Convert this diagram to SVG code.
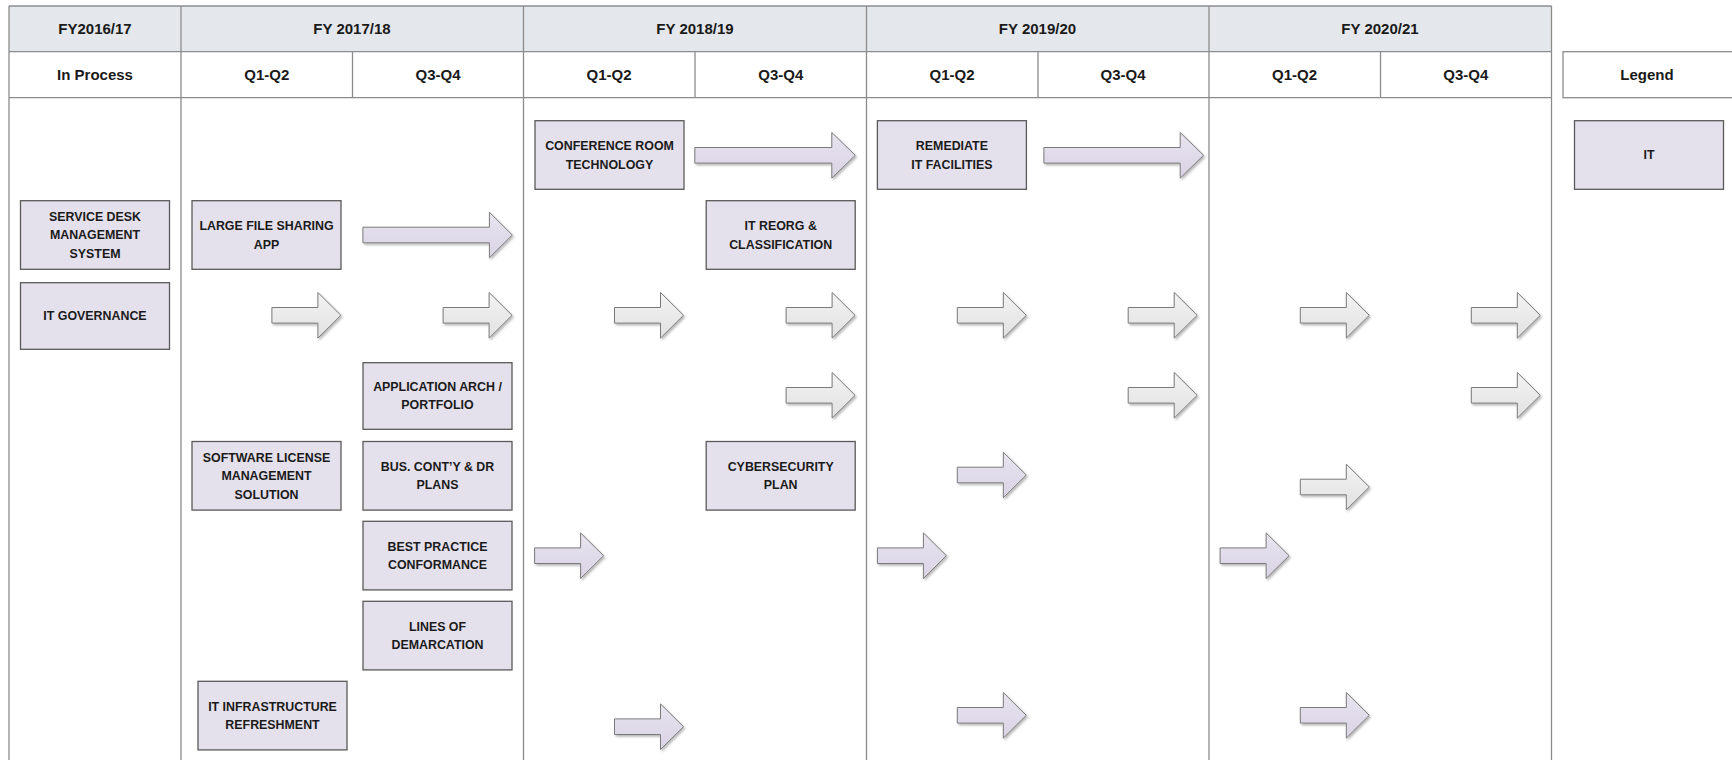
<svg xmlns="http://www.w3.org/2000/svg" width="1732" height="760" viewBox="0 0 1732 760">
<defs>
<linearGradient id="gGray" x1="0" y1="0" x2="0" y2="1">
<stop offset="0" stop-color="#f3f3f3"/>
<stop offset="1" stop-color="#e1e1e1"/>
</linearGradient>
<linearGradient id="gLav" x1="0" y1="0" x2="0" y2="1">
<stop offset="0" stop-color="#e8e4ef"/>
<stop offset="1" stop-color="#d9d3e5"/>
</linearGradient>
<filter id="sh" x="-10%" y="-20%" width="130%" height="150%">
<feDropShadow dx="1.5" dy="1.8" stdDeviation="1" flood-color="#000" flood-opacity="0.28"/>
</filter>
<style>
.grid{stroke:#8c8c8c;stroke-width:1.3;fill:none}
.hdr{fill:#e4e7eb}
.box{fill:#e5e1ec;stroke:#5a5a5a;stroke-width:1.3}
.lgd{fill:#ffffff;stroke:#8c8c8c;stroke-width:1.3}
.t{font-family:"Liberation Sans",Arial,sans-serif;font-weight:bold;font-size:12.4px;fill:#1a1a1a;text-anchor:middle}
.h{font-family:"Liberation Sans",Arial,sans-serif;font-weight:bold;font-size:15px;fill:#1a1a1a;text-anchor:middle}
.ag{fill:url(#gGray);stroke:#7a7a7a;stroke-width:1;filter:url(#sh)}
.al{fill:url(#gLav);stroke:#7a7a7a;stroke-width:1;filter:url(#sh)}
</style>
</defs>
<rect width="1732" height="760" fill="#ffffff"/>

<g id="table">
<rect class="hdr" x="9" y="6" width="1542.5" height="45.7"/>
<line class="grid" x1="9" y1="6" x2="1551.5" y2="6"/>
<line class="grid" x1="9" y1="51.7" x2="1551.5" y2="51.7"/>
<line class="grid" x1="9" y1="97.7" x2="1551.5" y2="97.7"/>
<line class="grid" x1="9" y1="6" x2="9" y2="770"/>
<line class="grid" x1="181" y1="6" x2="181" y2="770"/>
<line class="grid" x1="523.5" y1="6" x2="523.5" y2="770"/>
<line class="grid" x1="866.5" y1="6" x2="866.5" y2="770"/>
<line class="grid" x1="1209" y1="6" x2="1209" y2="770"/>
<line class="grid" x1="1551.5" y1="6" x2="1551.5" y2="770"/>
<line class="grid" x1="352.5" y1="51.7" x2="352.5" y2="97.7"/>
<line class="grid" x1="695" y1="51.7" x2="695" y2="97.7"/>
<line class="grid" x1="1038" y1="51.7" x2="1038" y2="97.7"/>
<line class="grid" x1="1380.5" y1="51.7" x2="1380.5" y2="97.7"/>
<text class="h" x="95" y="34.2">FY2016/17</text>
<text class="h" x="352" y="34.2">FY 2017/18</text>
<text class="h" x="695" y="34.2">FY 2018/19</text>
<text class="h" x="1037.5" y="34.2">FY 2019/20</text>
<text class="h" x="1380" y="34.2">FY 2020/21</text>
<text class="h" x="95" y="80.2">In Process</text>
<text class="h" x="266.8" y="80.2">Q1-Q2</text>
<text class="h" x="438" y="80.2">Q3-Q4</text>
<text class="h" x="609" y="80.2">Q1-Q2</text>
<text class="h" x="780.8" y="80.2">Q3-Q4</text>
<text class="h" x="952" y="80.2">Q1-Q2</text>
<text class="h" x="1123" y="80.2">Q3-Q4</text>
<text class="h" x="1294.5" y="80.2">Q1-Q2</text>
<text class="h" x="1465.8" y="80.2">Q3-Q4</text>
</g>

<g id="legend-header">
<rect class="lgd" x="1563" y="51.7" width="180" height="46"/>
<text class="h" x="1647" y="80.2">Legend</text>
</g>

<g id="legend-it">
<rect class="box" x="1574.5" y="120.7" width="149" height="68.6"/>
<text class="t" x="1649" y="159.4">IT</text>
</g>

<g id="service-desk">
<rect class="box" x="20.5" y="200.7" width="149" height="68.6"/>
<text class="t" x="95" y="221.1">SERVICE DESK</text>
<text class="t" x="95" y="239.4">MANAGEMENT</text>
<text class="t" x="95" y="257.7">SYSTEM</text>
</g>

<g id="it-governance">
<rect class="box" x="20.5" y="282.7" width="149" height="66.6"/>
<text class="t" x="95" y="320.4">IT GOVERNANCE</text>
</g>

<g id="large-file-sharing">
<rect class="box" x="192" y="200.7" width="149" height="68.6"/>
<text class="t" x="266.5" y="230.2">LARGE FILE SHARING</text>
<text class="t" x="266.5" y="248.5">APP</text>
</g>

<g id="software-license">
<rect class="box" x="192" y="441.5" width="149" height="68.6"/>
<text class="t" x="266.5" y="461.9">SOFTWARE LICENSE</text>
<text class="t" x="266.5" y="480.2">MANAGEMENT</text>
<text class="t" x="266.5" y="498.5">SOLUTION</text>
</g>

<g id="it-infrastructure">
<rect class="box" x="198" y="681.3" width="149" height="68.6"/>
<text class="t" x="272.5" y="710.8">IT INFRASTRUCTURE</text>
<text class="t" x="272.5" y="729.1">REFRESHMENT</text>
</g>

<g id="application-arch">
<rect class="box" x="363" y="362.7" width="149" height="66.6"/>
<text class="t" x="437.5" y="391.1">APPLICATION ARCH /</text>
<text class="t" x="437.5" y="409.4">PORTFOLIO</text>
</g>

<g id="bus-conty">
<rect class="box" x="363" y="441.5" width="149" height="68.6"/>
<text class="t" x="437.5" y="471">BUS. CONT’Y &amp; DR</text>
<text class="t" x="437.5" y="489.3">PLANS</text>
</g>

<g id="best-practice">
<rect class="box" x="363" y="521.3" width="149" height="68.6"/>
<text class="t" x="437.5" y="550.8">BEST PRACTICE</text>
<text class="t" x="437.5" y="569.1">CONFORMANCE</text>
</g>

<g id="lines-of-demarcation">
<rect class="box" x="363" y="601.3" width="149" height="68.6"/>
<text class="t" x="437.5" y="630.8">LINES OF</text>
<text class="t" x="437.5" y="649.1">DEMARCATION</text>
</g>

<g id="conference-room">
<rect class="box" x="535" y="120.7" width="149" height="68.6"/>
<text class="t" x="609.5" y="150.2">CONFERENCE ROOM</text>
<text class="t" x="609.5" y="168.5">TECHNOLOGY</text>
</g>

<g id="it-reorg">
<rect class="box" x="706.2" y="200.7" width="149" height="68.6"/>
<text class="t" x="780.7" y="230.2">IT REORG &amp;</text>
<text class="t" x="780.7" y="248.5">CLASSIFICATION</text>
</g>

<g id="cybersecurity">
<rect class="box" x="706.2" y="441.5" width="149" height="68.6"/>
<text class="t" x="780.7" y="471">CYBERSECURITY</text>
<text class="t" x="780.7" y="489.3">PLAN</text>
</g>

<g id="remediate">
<rect class="box" x="877.4" y="120.7" width="149" height="68.6"/>
<text class="t" x="951.9" y="150.2">REMEDIATE</text>
<text class="t" x="951.9" y="168.5">IT FACILITIES</text>
</g>

<g id="connectors">
<path class="al" d="M694.8,147.5 H831.8 V132.5 L855.3,155.3 L831.8,178.1 V163.1 H694.8 Z"/>
<path class="al" d="M1043.9,147.5 H1180.2 V132.5 L1203.6,155.3 L1180.2,178.1 V163.1 H1043.9 Z"/>
<path class="al" d="M362.9,227.2 H489.4 V212.2 L512.3,235 L489.4,257.8 V242.8 H362.9 Z"/>

<path class="ag" d="M271.9,307.5 H317.9 V292.5 L340.9,315.3 L317.9,338.1 V323.1 H271.9 Z"/>
<path class="ag" d="M443.1,307.5 H489.1 V292.5 L512.1,315.3 L489.1,338.1 V323.1 H443.1 Z"/>
<path class="ag" d="M614.5,307.5 H660.5 V292.5 L683.5,315.3 L660.5,338.1 V323.1 H614.5 Z"/>
<path class="ag" d="M786.1,307.5 H832.1 V292.5 L855.1,315.3 L832.1,338.1 V323.1 H786.1 Z"/>
<path class="ag" d="M957.3,307.5 H1003.3 V292.5 L1026.3,315.3 L1003.3,338.1 V323.1 H957.3 Z"/>
<path class="ag" d="M1128.2,307.5 H1174.2 V292.5 L1197.2,315.3 L1174.2,338.1 V323.1 H1128.2 Z"/>
<path class="ag" d="M1300.3,307.5 H1346.3 V292.5 L1369.3,315.3 L1346.3,338.1 V323.1 H1300.3 Z"/>
<path class="ag" d="M1471.3,307.5 H1517.3 V292.5 L1540.3,315.3 L1517.3,338.1 V323.1 H1471.3 Z"/>

<path class="ag" d="M786.1,387.5 H832.1 V372.5 L855.1,395.3 L832.1,418.1 V403.1 H786.1 Z"/>
<path class="ag" d="M1128.2,387.5 H1174.2 V372.5 L1197.2,395.3 L1174.2,418.1 V403.1 H1128.2 Z"/>
<path class="ag" d="M1471.3,387.5 H1517.3 V372.5 L1540.3,395.3 L1517.3,418.1 V403.1 H1471.3 Z"/>

<path class="al" d="M957.3,467.2 H1003.3 V452.2 L1026.3,475 L1003.3,497.8 V482.8 H957.3 Z"/>
<path class="ag" d="M1300.3,479.2 H1346.3 V464.2 L1369.3,487 L1346.3,509.8 V494.8 H1300.3 Z"/>

<path class="al" d="M534.6,547.9 H580.6 V532.9 L603.6,555.7 L580.6,578.5 V563.5 H534.6 Z"/>
<path class="al" d="M877.4,547.9 H923.4 V532.9 L946.4,555.7 L923.4,578.5 V563.5 H877.4 Z"/>
<path class="al" d="M1220.1,547.9 H1266.1 V532.9 L1289.1,555.7 L1266.1,578.5 V563.5 H1220.1 Z"/>

<path class="al" d="M614.5,718.9 H660.5 V703.9 L683.5,726.7 L660.5,749.5 V734.5 H614.5 Z"/>
<path class="al" d="M957.3,707.5 H1003.3 V692.5 L1026.3,715.3 L1003.3,738.1 V723.1 H957.3 Z"/>
<path class="al" d="M1300.3,707.5 H1346.3 V692.5 L1369.3,715.3 L1346.3,738.1 V723.1 H1300.3 Z"/>
</g>
</svg>
